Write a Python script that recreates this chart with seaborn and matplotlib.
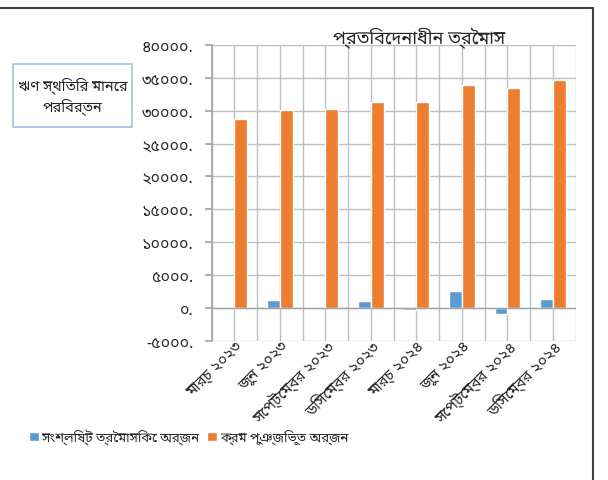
import matplotlib
matplotlib.use("Agg")
import matplotlib.pyplot as plt
import matplotlib.transforms as mtransforms
from matplotlib.patches import Rectangle
from matplotlib.lines import Line2D
import numpy as np
import pandas as pd
import seaborn as sns

# ডেটা
quarters = ["মার্চ ২০২৩", "জুন ২০২৩", "সেপ্টেম্বর ২০২৩", "ডিসেম্বর ২০২৩",
            "মার্চ ২০২৪", "জুন ২০২৪", "সেপ্টেম্বর ২০২৪", "ডিসেম্বর ২০২৪"]
series_names = ["সংশ্লিষ্ট ত্রৈমাসিকে অর্জন", "ক্রম পুঞ্জিভূত অর্জন"]
quarterly_gain = [0, 1200, 0, 1000, -300, 2500, -900, 1400]
cumulative_gain = [28800, 30100, 30300, 31400, 31400, 33900, 33400, 34700]
y_ticks = [-5000, 0, 5000, 10000, 15000, 20000, 25000, 30000, 35000, 40000]

title_text = "প্রতিবেদনাধীন ত্রৈমাস"
box_text = "ঋণ স্থিতির মানের\nপরিবর্তন"

colors = ["#5B9BD5", "#ED7D31"]

sns.set_theme(style="white")
plt.rcParams["font.family"] = ["Noto Sans Bengali", "DejaVu Sans"]

df = pd.DataFrame({
    "quarter": quarters * 2,
    "series": [series_names[0]] * len(quarters) + [series_names[1]] * len(quarters),
    "value": quarterly_gain + cumulative_gain,
})

fig = plt.figure(figsize=(6.08, 4.81), dpi=100)
ax = fig.add_axes([0.348, 0.290, 0.599, 0.614])

sns.barplot(data=df, x="quarter", y="value", hue="series", palette=colors,
            width=0.57, saturation=1, ax=ax, legend=True, zorder=2)

n = len(quarters)
ax.set_xlim(-0.5, n - 0.5)
ax.set_ylim(-5000, 40000)
ax.set_yticks(y_ticks)

bn_digits = str.maketrans("0123456789", "০১২৩৪৫৬৭৮৯")
ax.set_yticklabels([f"{v}.".translate(bn_digits) for v in y_ticks], fontsize=11.5)

# গ্রিড
grid_c = "#BFBFBF"
for y in y_ticks:
    ax.axhline(y, color=grid_c, lw=1, zorder=0)
for x in np.arange(-0.5, n, 0.5):
    ax.axvline(x, color=grid_c, lw=1, zorder=0)
ax.axhline(0, color="#A6A6A6", lw=1, zorder=3)
for s in ["top", "right", "bottom"]:
    ax.spines[s].set_visible(False)
ax.spines["left"].set_color("#A6A6A6")
ax.tick_params(axis="y", left=True, length=5, color="#A6A6A6", pad=8)
ax.tick_params(axis="x", bottom=False, pad=-4)

ax.set_xticks(range(n))
ax.set_xticklabels(quarters, rotation=45, ha="right", va="center",
                   rotation_mode="anchor", fontsize=11)
offset = mtransforms.ScaledTranslation(6 / 100, 0, fig.dpi_scale_trans)
for lbl in ax.get_xticklabels():
    lbl.set_transform(lbl.get_transform() + offset)

ax.set_xlabel("")
ax.set_ylabel("")

handles, labels = ax.get_legend_handles_labels()
ax.get_legend().remove()
fig.legend(handles, labels, loc="center left", bbox_to_anchor=(0.028, 0.090),
           ncol=2, frameon=False, fontsize=9.5, handlelength=0.75,
           handleheight=0.75, handletextpad=0.2, columnspacing=0.6)

fig.text(0.69, 0.921, title_text, ha="center", va="center", fontsize=13)

fig.patches.append(Rectangle((0.0214, 0.734), 0.196, 0.131, transform=fig.transFigure,
                             facecolor="white", edgecolor="#9DC3E6", lw=1.2))
fig.text(0.119, 0.800, box_text, ha="center", va="center", fontsize=10.5,
         linespacing=1.3)

fig.lines.append(Line2D([0, 0.975], [0.981, 0.981], transform=fig.transFigure,
                        color="#404040", lw=1.5))
fig.lines.append(Line2D([0.975, 0.975], [0.981, 0], transform=fig.transFigure,
                        color="#404040", lw=1.5))

fig.savefig("out.png", dpi=100)
